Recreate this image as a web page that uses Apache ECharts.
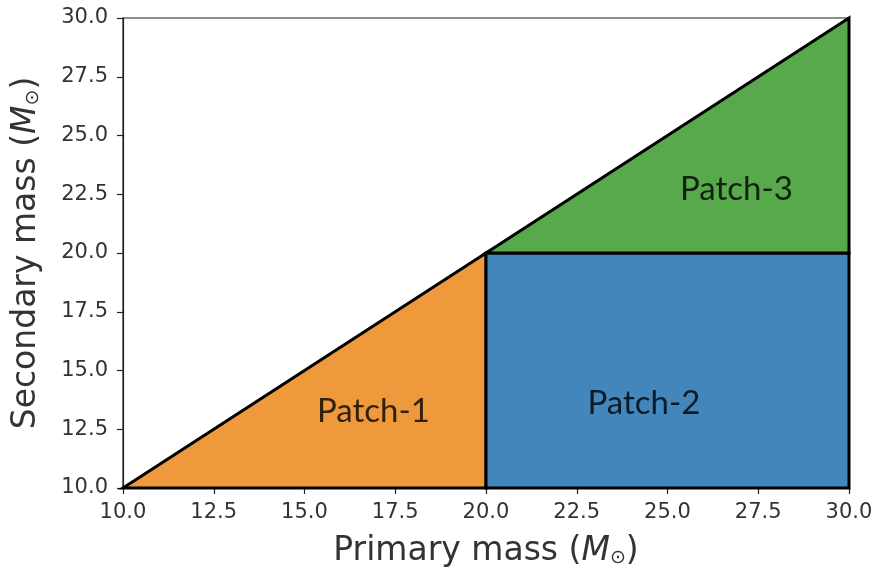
<!DOCTYPE html>
<html>
<head>
<meta charset="utf-8">
<script src="https://cdn.jsdelivr.net/npm/echarts@6/dist/echarts.min.js"></script>
<style>html,body{margin:0;padding:0;background:#fff}#c{width:875px;height:568px}</style>
</head>
<body>
<div id="c"></div>
<script>
const xTicks = [10, 12.5, 15, 17.5, 20, 22.5, 25, 27.5, 30];
const yTicks = [10, 12.5, 15, 17.5, 20, 22.5, 25, 27.5, 30];
const patch1 = [[10, 10], [20, 20], [20, 10]];
const patch2 = [[20, 10], [20, 20], [30, 20], [30, 10]];
const patch3 = [[20, 20], [30, 30], [30, 20]];
const patchNames = ['Patch-1', 'Patch-2', 'Patch-3'];
const labelPos = [[16.9, 13.25], [24.35, 13.6], [26.9, 22.7]];
const patchColors = ['#EE993B', '#4386BC', '#58A84C'];

function polySeries(pts, color) {
  return {
    type: 'custom',
    data: pts,
    z: 2,
    renderItem: function (params, api) {
      if (params.dataIndex !== 0) return null;
      const points = pts.map(p => api.coord(p));
      return {
        type: 'polygon',
        shape: { points: points },
        style: { fill: color, stroke: '#000', lineWidth: 3, lineJoin: 'miter' }
      };
    },
    silent: true
  };
}

const TF = 33;
const axisCommon = {
  type: 'value', min: 10, max: 30, interval: 2.5,
  axisLine: { show: true, lineStyle: { color: '#222', width: 1.2 } },
  axisTick: { show: true, inside: false, length: 6, lineStyle: { color: '#222', width: 1.2 } },
  splitLine: { show: false },
  axisLabel: { color: '#333', fontFamily: 'DejaVu Sans', fontSize: 21, formatter: v => v.toFixed(1) },
  nameLocation: 'middle',
  nameTextStyle: {
    color: '#333', fontFamily: 'DejaVu Sans', fontSize: TF,
    rich: {
      n: { fontFamily: 'DejaVu Sans', fontSize: TF, color: '#333' },
      m: { fontFamily: 'DejaVu Sans', fontStyle: 'italic', fontSize: TF, color: '#333' },
      s: { fontFamily: 'DejaVu Sans', fontSize: 19, color: '#333', verticalAlign: 'bottom', padding: [15, 0, 0, 0] }
    }
  }
};

const chart = echarts.init(document.getElementById('c'));
chart.setOption({
  animation: false,
  grid: { left: 123, right: 26, top: 18, bottom: 80, containLabel: false, outerBoundsMode: 'none', show: true, borderColor: '#222', borderWidth: 1.2, backgroundColor: '#fff' },
  xAxis: Object.assign({}, axisCommon, {
    name: '{n|Primary mass (}{m|M}{s|⊙}{n|)}', nameGap: 46,
    axisLabel: Object.assign({}, axisCommon.axisLabel, { margin: 14 })
  }),
  yAxis: Object.assign({}, axisCommon, {
    name: '{n|Secondary mass (}{m|M}{s|⊙}{n|)}', nameGap: 80,
    axisLabel: Object.assign({}, axisCommon.axisLabel, { margin: 15 })
  }),
  series: [
    polySeries(patch1, patchColors[0]),
    polySeries(patch2, patchColors[1]),
    polySeries(patch3, patchColors[2]),
    {
      type: 'scatter', symbolSize: 0, z: 5, silent: true,
      data: labelPos.map((p, i) => ({ value: p, name: patchNames[i] })),
      label: { show: true, position: 'inside', formatter: p => p.name, color: '#000', fontFamily: 'Lato', fontSize: 33 }
    }
  ]
});
</script>
</body>
</html>
